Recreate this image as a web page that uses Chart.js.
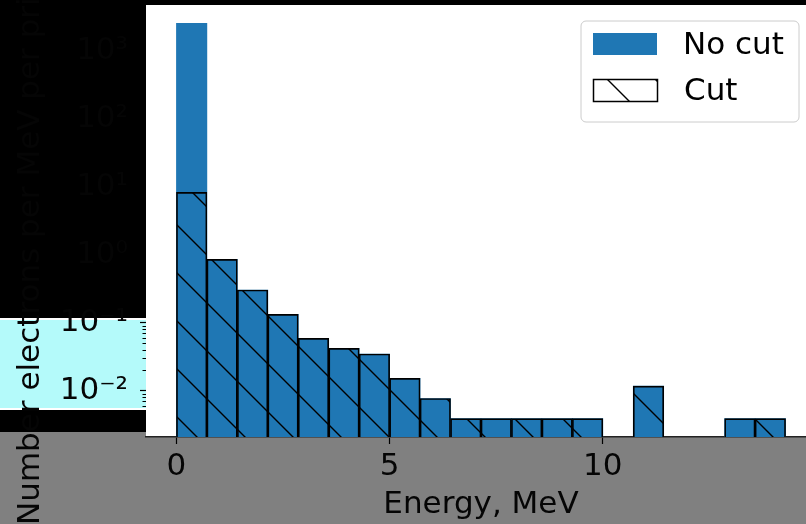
<!DOCTYPE html>
<html>
<head>
<meta charset="utf-8">
<script src="https://cdn.jsdelivr.net/npm/chart.js@4/dist/chart.umd.min.js"></script>
<style>
  html, body { margin: 0; padding: 0; overflow: hidden; background: #000; }
  #wrap { width: 816px; height: 524px; }
</style>
</head>
<body>
<div id="wrap"><canvas id="c" width="816" height="524"></canvas></div>
<script>
// Energy bins (MeV): centres of 20 equal bins spanning 0 .. 14.29 MeV
const binCenters = [0.357, 1.071, 1.786, 2.5, 3.214, 3.929, 4.643, 5.357, 6.071, 6.786,
                    7.5, 8.214, 8.929, 9.643, 10.357, 11.071, 11.786, 12.5, 13.214, 13.929];
// Histogram heights per bin (null = empty bin)
const noCutValues = [2530, 0.855, 0.303, 0.133, 0.059, 0.042, 0.0347, 0.0152, 0.0077, 0.0039,
                     0.0039, 0.0039, 0.0039, 0.0039, null, 0.0117, null, null, 0.0039, 0.0039];
const cutValues   = [8.28, 0.855, 0.303, 0.133, 0.059, 0.042, 0.0347, 0.0152, 0.0077, 0.0039,
                     0.0039, 0.0039, 0.0039, 0.0039, null, 0.0117, null, null, 0.0039, 0.0039];
const seriesLabels = ['No cut', 'Cut'];
const xTickValues = [0, 5, 10];
const yTickExponents = [-2, -1, 0, 1, 2, 3];
const xTitle = 'Energy, MeV';
const yTitle = 'Number electrons per MeV per primary';

const BLUE = '#1f77b4';
const TEXT = '#050505';
const FONT = { family: 'DejaVu Sans', size: 31 };
const SUP = { '-': '\u207B', '0': '\u2070', '1': '\u00B9', '2': '\u00B2', '3': '\u00B3',
              '4': '\u2074', '5': '\u2075', '6': '\u2076', '7': '\u2077', '8': '\u2078', '9': '\u2079' };
const powerLabel = e => '10' + String(e).split('').map(ch => SUP[ch]).join('');

function toPoints(values) {
  return binCenters.map((x, i) => ({ x, y: values[i] })).filter(p => p.y !== null);
}

// Backslash hatch tile
function makeHatch() {
  const s = 48;
  const c = document.createElement('canvas');
  c.width = s; c.height = s;
  const g = c.getContext('2d');
  g.strokeStyle = '#000';
  g.lineWidth = 1.4;
  g.beginPath();
  g.moveTo(-4, -4); g.lineTo(s + 4, s + 4);
  g.moveTo(s - 8, -8); g.lineTo(s + 8, 8);
  g.moveTo(-8, s - 8); g.lineTo(8, s + 8);
  g.stroke();
  return g.createPattern(c, 'repeat');
}
const hatch = makeHatch();

// Figure background panels and plotting area
const backdrop = {
  id: 'backdrop',
  beforeDraw(chart) {
    const { ctx, chartArea: a, width, height } = chart;
    ctx.save();
    ctx.fillStyle = '#000';
    ctx.fillRect(0, 0, width, height);
    ctx.fillStyle = '#808080';
    ctx.fillRect(0, 432, width, height - 432);
    ctx.fillStyle = '#ffffff';
    ctx.fillRect(0, 318, a.left, 92);
    ctx.fillStyle = '#b4fafa';
    ctx.fillRect(0, 320, a.left, 88);
    ctx.fillStyle = '#ffffff';
    ctx.fillRect(a.left, a.top, a.right - a.left, a.bottom - a.top);
    ctx.restore();
  }
};

// Minor log ticks, y-axis title and legend
const overlay = {
  id: 'overlay',
  afterDraw(chart) {
    const { ctx, chartArea: a } = chart;
    const ys = chart.scales.y;
    ctx.save();
    ctx.strokeStyle = '#000';
    ctx.lineWidth = 1;
    for (let e = -3; e <= 3; e++) {
      for (let m = 2; m <= 9; m++) {
        const v = m * Math.pow(10, e);
        if (v < ys.min || v > ys.max) continue;
        const py = Math.round(ys.getPixelForValue(v)) + 0.5;
        ctx.beginPath();
        ctx.moveTo(a.left - 3.5, py);
        ctx.lineTo(a.left, py);
        ctx.stroke();
      }
    }

    // y-axis title, centred on the plotting area
    ctx.save();
    ctx.translate(30.5, (a.top + a.bottom) / 2);
    ctx.rotate(-Math.PI / 2);
    ctx.font = `${FONT.size}px "${FONT.family}"`;
    ctx.fillStyle = TEXT;
    ctx.textAlign = 'center';
    ctx.textBaseline = 'middle';
    ctx.fillText(yTitle, 0, 0);
    ctx.restore();

    // legend
    const lx = 581, ly = 21, lw = 218, lh = 101, r = 5;
    ctx.beginPath();
    ctx.moveTo(lx + r, ly);
    ctx.arcTo(lx + lw, ly, lx + lw, ly + lh, r);
    ctx.arcTo(lx + lw, ly + lh, lx, ly + lh, r);
    ctx.arcTo(lx, ly + lh, lx, ly, r);
    ctx.arcTo(lx, ly, lx + lw, ly, r);
    ctx.closePath();
    ctx.fillStyle = 'rgba(255,255,255,0.8)';
    ctx.fill();
    ctx.strokeStyle = '#cccccc';
    ctx.lineWidth = 1;
    ctx.stroke();

    const ds = chart.data.datasets;
    ctx.fillStyle = ds[0].backgroundColor;
    ctx.fillRect(593, 33, 64, 22);
    ctx.fillStyle = '#ffffff';
    ctx.fillRect(593, 79, 65, 23);
    ctx.fillStyle = hatch;
    ctx.fillRect(593, 79, 65, 23);
    ctx.strokeStyle = '#000';
    ctx.lineWidth = 1.5;
    ctx.strokeRect(593.5, 79.5, 64, 22);

    ctx.font = `${FONT.size}px "${FONT.family}"`;
    ctx.fillStyle = '#000';
    ctx.textAlign = 'left';
    ctx.textBaseline = 'middle';
    ctx.fillText(ds[0].label, 683, 46);
    ctx.fillText(ds[1].label, 684, 92);
    ctx.restore();
  }
};

new Chart(document.getElementById('c'), {
  type: 'bar',
  data: {
    datasets: [
      {
        label: seriesLabels[0],
        data: toPoints(noCutValues),
        backgroundColor: BLUE,
        borderWidth: 0,
        order: 2
      },
      {
        label: seriesLabels[1],
        data: toPoints(cutValues),
        backgroundColor: hatch,
        borderColor: '#000',
        borderWidth: 1,
        order: 1
      }
    ]
  },
  options: {
    responsive: false,
    animation: false,
    events: [],
    grouped: false,
    barPercentage: 1,
    categoryPercentage: 1,
    layout: { padding: { top: 5, right: 0, bottom: 0, left: 0 } },
    plugins: { legend: { display: false }, tooltip: { enabled: false } },
    scales: {
      x: {
        type: 'linear',
        offset: false,
        min: -0.714,
        max: 15,
        afterFit(s) { s.height = 87; s.paddingLeft = 0; s.paddingRight = 0; },
        afterBuildTicks(s) { s.ticks = xTickValues.map(v => ({ value: v })); },
        grid: { offset: false, drawOnChartArea: false, tickLength: 7, tickWidth: 1.2, tickColor: '#000' },
        border: { display: true, color: '#222', width: 1.5 },
        ticks: { color: TEXT, font: FONT, padding: 4, maxRotation: 0, callback: v => String(v) },
        title: { display: true, text: xTitle, color: TEXT, font: FONT, padding: { top: 0, bottom: 0 } }
      },
      y: {
        type: 'logarithmic',
        min: 0.00209,
        max: 4700,
        afterFit(s) { s.width = 146; s.paddingTop = 0; s.paddingBottom = 0; },
        afterBuildTicks(s) { s.ticks = yTickExponents.map(e => ({ value: Math.pow(10, e) })); },
        grid: { drawOnChartArea: false, tickLength: 6, tickWidth: 1.2, tickColor: '#000' },
        border: { display: false },
        ticks: {
          color: TEXT, font: FONT, padding: 12,
          callback: v => powerLabel(Math.round(Math.log10(v)))
        }
      }
    }
  },
  plugins: [backdrop, overlay]
});
</script>
</body>
</html>
